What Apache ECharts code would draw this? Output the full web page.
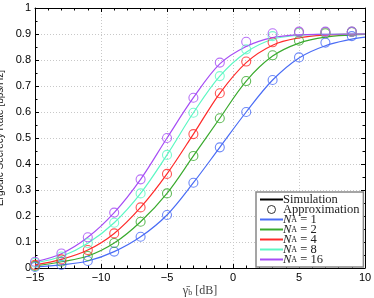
<!DOCTYPE html>
<html><head><meta charset="utf-8">
<script src="https://cdn.jsdelivr.net/npm/echarts@6/dist/echarts.min.js"></script>
<style>html,body{margin:0;padding:0;background:#fff}#c{width:374px;height:298px}</style>
</head><body><div id="c"></div>
<script>
// Simulation (lines) x positions
const simX = [-15, -13, -11, -9, -7, -5, -3, -1, 1, 3, 5, 7, 9, 10];
// Approximation (circles) x positions
const apxX = [-15, -13, -11, -9, -7, -5, -3, -1, 1, 3, 5, 7, 9];
const names = ['1', '2', '4', '8', '16'];
const colors = ['#4a6cf5', '#3aaa2e', '#ff2a2a', '#5cf7c4', '#a64df5'];

const sim1  = [0.004, 0.012, 0.027, 0.063, 0.120, 0.204, 0.328, 0.464, 0.600, 0.723, 0.808, 0.855, 0.880, 0.888];
const sim2  = [0.008, 0.024, 0.046, 0.096, 0.178, 0.287, 0.431, 0.576, 0.719, 0.815, 0.865, 0.888, 0.896, 0.898];
const sim4  = [0.012, 0.033, 0.069, 0.133, 0.233, 0.362, 0.515, 0.672, 0.790, 0.857, 0.885, 0.896, 0.899, 0.900];
const sim8  = [0.020, 0.044, 0.095, 0.174, 0.287, 0.435, 0.597, 0.738, 0.830, 0.880, 0.895, 0.899, 0.900, 0.900];
const sim16 = [0.024, 0.055, 0.118, 0.213, 0.341, 0.500, 0.655, 0.785, 0.852, 0.886, 0.897, 0.899, 0.900, 0.900];

const apx1  = [0.004, 0.012, 0.027, 0.063, 0.120, 0.204, 0.328, 0.464, 0.600, 0.723, 0.810, 0.867, 0.892];
const apx2  = [0.008, 0.024, 0.046, 0.096, 0.178, 0.287, 0.431, 0.576, 0.719, 0.818, 0.874, 0.903, 0.908];
const apx4  = [0.012, 0.033, 0.069, 0.133, 0.233, 0.362, 0.515, 0.672, 0.794, 0.868, 0.906, 0.907, 0.908];
const apx8  = [0.020, 0.044, 0.095, 0.174, 0.287, 0.435, 0.597, 0.738, 0.841, 0.892, 0.905, 0.907, 0.908];
const apx16 = [0.024, 0.056, 0.118, 0.213, 0.341, 0.500, 0.655, 0.790, 0.870, 0.903, 0.909, 0.909, 0.909];

const sims = [sim1, sim2, sim4, sim8, sim16];
const apxs = [apx1, apx2, apx4, apx8, apx16];

const serif = '"Liberation Serif", "DejaVu Serif", serif';
const sans = '"Liberation Sans", Arial, sans-serif';
const hideSym = { color: 'transparent', borderWidth: 0, opacity: 0 };

const series = [];
series.push({ name: 'Simulation', type: 'line', data: [], symbol: 'none', lineStyle: { color: '#000', width: 1.2 }, itemStyle: { color: '#000' } });
series.push({ name: 'Approximation', type: 'scatter', data: [], symbol: 'circle',
  itemStyle: { color: 'transparent', borderColor: '#000', borderWidth: 1 } });
sims.forEach((s, i) => {
  series.push({ name: 'N_A = ' + names[i], type: 'line', smooth: 0.35, symbol: 'none',
    data: simX.map((x, j) => [x, s[j]]),
    lineStyle: { color: colors[i], width: 1.2 }, itemStyle: { color: colors[i] }, z: 3 });
});
apxs.forEach((s, i) => {
  series.push({ name: 'apx' + names[i], type: 'scatter', symbol: 'circle', symbolSize: 9,
    data: apxX.map((x, j) => [x, s[j]]),
    itemStyle: { color: 'transparent', borderColor: colors[i], borderWidth: 1.1 }, z: 4 });
});

const chart = echarts.init(document.getElementById('c'), null, { renderer: 'canvas' });
const axisCommon = {
  axisLine: { show: true, onZero: false, lineStyle: { color: '#000', width: 1 } },
  axisTick: { show: true, inside: true, length: 4, lineStyle: { color: '#000' } },
};
chart.setOption({
  animation: false,
  backgroundColor: '#fff',
  grid: { left: 35, right: 9, top: 8, bottom: 30, containLabel: false, outerBoundsMode: 'none' },
  xAxis: [
    Object.assign({ type: 'value', min: -15, max: 10, interval: 5,
      axisLabel: { color: '#000', fontFamily: sans, fontSize: 11, margin: 4,
        formatter: v => String(v).replace('-', '\u2212') },
      minorTick: { show: true, splitNumber: 5, length: 2.5, lineStyle: { color: '#000' } },
      splitLine: { show: true, lineStyle: { color: '#c8c8c8', type: [1, 2], width: 1 } },
      name: '{g|\u03B3\u0304}{s|b}{t| [dB]}', nameLocation: 'middle', nameGap: 17, nameMoveOverlap: false,
      nameTextStyle: { rich: {
        g: { fontFamily: serif, fontSize: 12, color: '#444', lineHeight: 12, verticalAlign: 'middle' },
        s: { fontFamily: serif, fontSize: 8, color: '#444', lineHeight: 9, verticalAlign: 'bottom' },
        t: { fontFamily: serif, fontSize: 12, color: '#444', lineHeight: 12, verticalAlign: 'middle' } } }
    }, axisCommon),
    Object.assign({ type: 'value', min: -15, max: 10, interval: 5, position: 'top',
      axisLabel: { show: false }, splitLine: { show: false },
      minorTick: { show: true, splitNumber: 5, length: 2.5, lineStyle: { color: '#000' } } }, axisCommon)
  ],
  yAxis: [
    Object.assign({ type: 'value', min: 0, max: 1, interval: 0.1,
      axisLabel: { color: '#000', fontFamily: sans, fontSize: 11, margin: 4,
        formatter: v => (Math.round(v * 10) / 10).toString() },
      minorTick: { show: true, splitNumber: 2, length: 2.5, lineStyle: { color: '#000' } },
      splitLine: { show: true, lineStyle: { color: '#c8c8c8', type: [1, 2], width: 1 } },
      name: 'Ergodic Secrecy Rate [bps/Hz]', nameLocation: 'middle', nameGap: 18,
      nameTextStyle: { fontFamily: sans, fontSize: 10, color: '#222' }
    }, axisCommon),
    Object.assign({ type: 'value', min: 0, max: 1, interval: 0.1, position: 'right',
      axisLabel: { show: false }, splitLine: { show: false },
      minorTick: { show: true, splitNumber: 2, length: 2.5, lineStyle: { color: '#000' } } }, axisCommon)
  ],
  legend: {
    orient: 'vertical', left: 256, top: 192,
    data: [{ name: 'Simulation', itemStyle: hideSym },
           { name: 'Approximation', icon: 'circle', itemStyle: { color: 'transparent', borderColor: '#000', borderWidth: 1 } }]
      .concat(names.map(n => ({ name: 'N_A = ' + n, itemStyle: hideSym }))),
    itemWidth: 23, itemHeight: 8, itemGap: -3,
    padding: [1, 4, 1, 3],
    backgroundColor: '#fff', borderColor: '#888', borderWidth: 1.5, borderRadius: 0,
    formatter: name => {
      if (name.startsWith('N_A')) return '{n|N}{s|A}{t| = ' + name.split('= ')[1] + '}';
      return '{t|' + name + '}';
    },
    textStyle: { padding: [0, 0, 0, -5], fontFamily: serif, fontSize: 12.5, lineHeight: 9, rich: {
      n: { fontFamily: serif, fontStyle: 'italic', fontSize: 12.5, color: '#222', lineHeight: 9, verticalAlign: 'middle' },
      s: { fontFamily: serif, fontSize: 8, color: '#222', lineHeight: 6, padding: [3, 0, 0, 0], verticalAlign: 'bottom' },
      t: { fontFamily: serif, fontSize: 12.5, color: '#222', lineHeight: 9, verticalAlign: 'middle' } } }
  },
  series: series
});
</script></body></html>
